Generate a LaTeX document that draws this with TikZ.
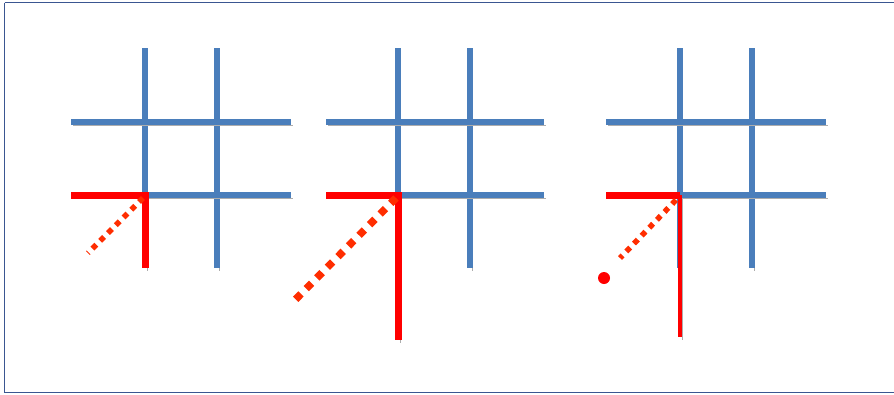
\documentclass[tikz,border=0pt]{standalone}
\definecolor{gridblue}{RGB}{74,126,187}
\definecolor{frameblue}{RGB}{58,86,145}
\definecolor{dotred}{RGB}{255,45,0}

\begin{document}
\begin{tikzpicture}[x=1pt, y=-1pt,
    shade/.style={preaction={draw=black!32, transform canvas={shift={(2pt,-3pt)}}}},
    bar/.style={gridblue, line width=6pt, shade},
    redbar/.style={red, line width=7pt, miter limit=4, shade},
    diag/.style={dotred, line width=#1, dash pattern=on #1 off #1}]

    \useasboundingbox (0,0) rectangle (894,394);

    % Frame
    \draw[frameblue, line width=1.8pt] (4.5,2.5) -- (900,2.5);
    \draw[frameblue, line width=1.8pt] (4.5,2.5) -- (4.5,392.5) -- (900,392.5);

    % Three grids
    \foreach \gx/\gl in {145/71, 398/326, 680/606} {
        \draw[bar] (\gx,48) -- (\gx,268);
        \draw[bar] (\gx+72,48) -- (\gx+72,268);
        \draw[bar] (\gl,122) -- (\gx+146,122);
        \draw[bar] (\gl,195) -- (\gx+146,195);
    }

    % Corners
    \coordinate (c1) at (145,195);
    \coordinate (c2) at (398,195);
    \coordinate (c3) at (680,195);

    % Grid 1
    \draw[redbar] (71,195) -- (c1) -- (145,268);
    \draw[diag=5.5pt] (143,198) -- (88,253);

    % Grid 2
    \draw[redbar] (326,195) -- (c2) -- (398,340);
    \draw[diag=7.5pt] (396,198) -- (293,302);

    % Grid 3
    \draw[redbar] (606,195) -- (c3);
    \draw[red, line width=4pt, shade] (c3) -- (680,337);
    \draw[diag=5.5pt] (676,200) -- (620,258);
    \fill[red] (604,278) circle (6pt);

\end{tikzpicture}
\end{document}
